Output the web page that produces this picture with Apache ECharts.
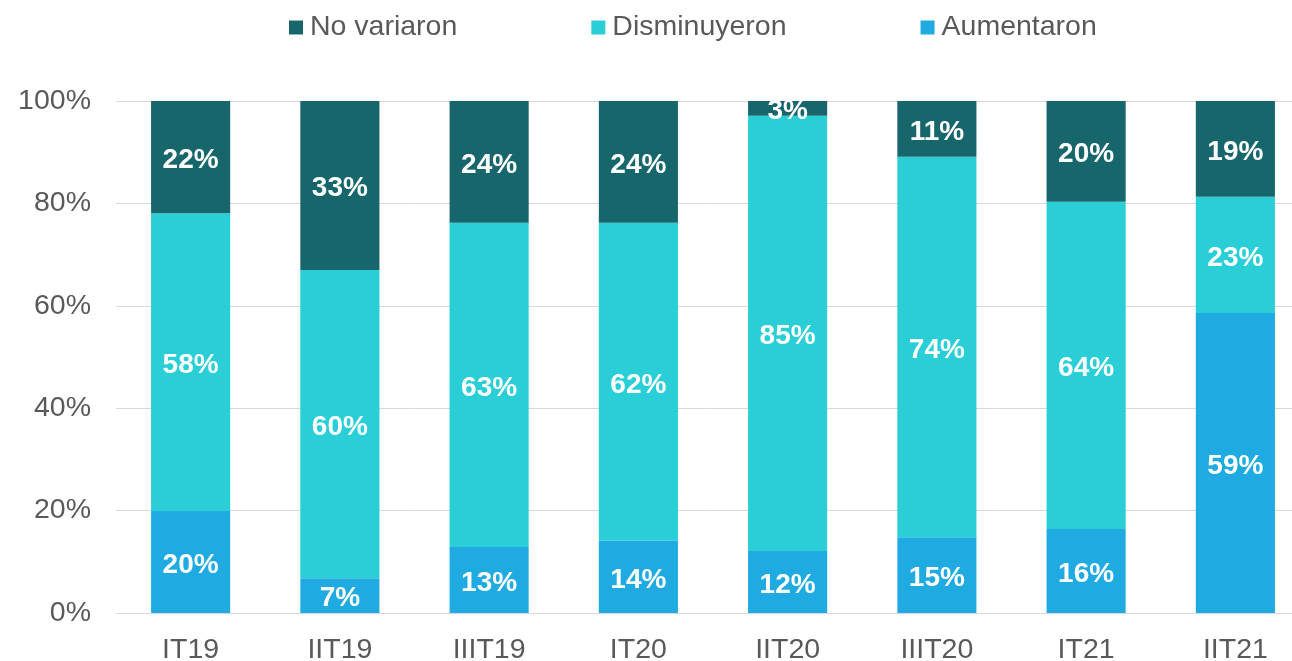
<!DOCTYPE html>
<html>
<head>
<meta charset="utf-8">
<script src="https://cdn.jsdelivr.net/npm/echarts@6/dist/echarts.min.js"></script>
<style>html,body{margin:0;padding:0;background:#fff;overflow:hidden}#c{width:1292px;height:661px}</style>
</head>
<body>
<div id="c"></div>
<script>
var categories = ['IT19','IIT19','IIIT19','IT20','IIT20','IIIT20','IT21','IIT21'];
var aumentaron = [19.9, 6.8, 12.9, 14.1, 12.1, 14.8, 16.4, 58.6];
var disminuyeron = [58.2, 60.2, 63.3, 62.1, 85.0, 74.3, 63.9, 22.7];
var noVariaron = [21.9, 33.0, 23.8, 23.8, 2.9, 10.9, 19.7, 18.7];
var yTicks = [0, 20, 40, 60, 80, 100];

var FONT = '"Liberation Sans", Arial, sans-serif';
var chart = echarts.init(document.getElementById('c'));
function lbl() {
  return {
    show: true, position: 'inside', color: '#ffffff', fontWeight: 'bold',
    fontSize: 28, fontFamily: FONT, offset: [0, 3],
    formatter: function (p) { return Math.round(p.value) + '%'; }
  };
}
chart.setOption({
  animation: false,
  legend: {
    data: ['No variaron', 'Disminuyeron', 'Aumentaron'],
    left: 284, top: 8,
    itemWidth: 14, itemHeight: 14, itemGap: 134,
    icon: 'rect',
    textStyle: { fontSize: 28.5, color: '#595959', fontFamily: FONT, padding: [0, 0, 0, 2] }
  },
  grid: { left: 116, width: 1194, top: 101, bottom: 48, containLabel: false, outerBoundsMode: 'none' },
  xAxis: {
    type: 'category', data: categories,
    axisLine: { show: true, lineStyle: { color: '#D9D9D9', width: 1 } },
    axisTick: { show: false },
    axisLabel: { color: '#595959', fontSize: 28.5, fontFamily: FONT, margin: 23 }
  },
  yAxis: {
    type: 'value', min: yTicks[0], max: yTicks[yTicks.length - 1], interval: 20,
    axisLine: { show: false }, axisTick: { show: false },
    splitLine: { lineStyle: { color: '#D9D9D9', width: 1 } },
    axisLabel: { color: '#595959', fontSize: 28.5, fontFamily: FONT, margin: 25,
      formatter: function (v) { return v + '%'; } }
  },
  series: [
    { name: 'Aumentaron', type: 'bar', stack: 't', data: aumentaron, barWidth: '53%',
      itemStyle: { color: '#1FABE2' }, label: lbl() },
    { name: 'Disminuyeron', type: 'bar', stack: 't', data: disminuyeron, barWidth: '53%',
      itemStyle: { color: '#29CED7' }, label: lbl() },
    { name: 'No variaron', type: 'bar', stack: 't', data: noVariaron, barWidth: '53%',
      itemStyle: { color: '#17666B' }, label: lbl() }
  ]
});
</script>
</body>
</html>
